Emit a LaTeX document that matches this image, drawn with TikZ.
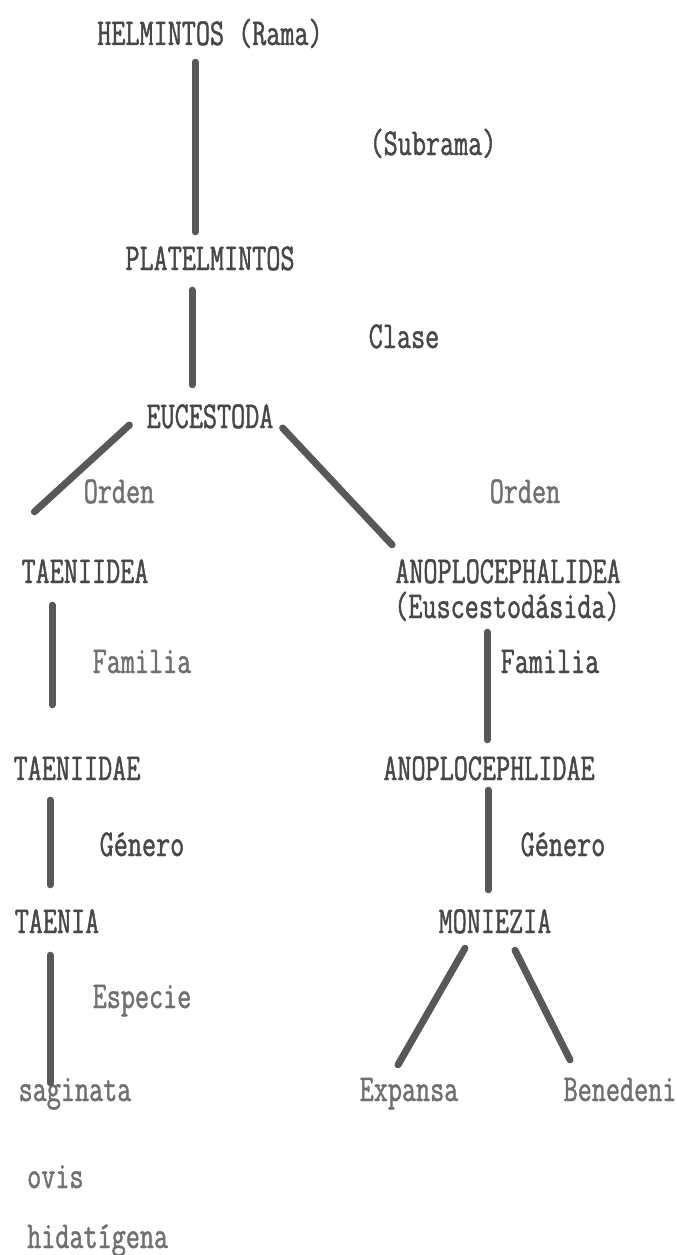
\documentclass[tikz,border=0pt]{standalone}
\usepackage{fontspec}
\setmonofont{Latin Modern Mono}[FakeStretch=0.72, FakeBold=1.2]
\usepackage{tikz}
\usetikzlibrary{calc}
\definecolor{inkdark}{HTML}{484848}
\definecolor{inklight}{HTML}{707070}
\definecolor{inkline}{HTML}{585858}
\tikzset{
	taxon/.style={font=\ttfamily\fontsize{38}{40}\selectfont, text=inkdark, inner sep=0pt, text height=22pt, text depth=6pt},
	rank/.style={taxon, text=inklight},
	branch/.style={line width=7pt, color=inkline, line cap=round}
}

\begin{document}
\begin{tikzpicture}[x=1pt, y=-1pt]
		%%%%% START %%%%%
		\useasboundingbox[fill=white] (0, 0) rectangle (677, 1255);
		
		\node[taxon] (helm) at (210, 37) {HELMINTOS (Rama)};
		\node[taxon] (plat) at (210, 262) {PLATELMINTOS};
		\node[taxon] (euce) at (210, 420) {EUCESTODA};
		
		\node[taxon] (taea) at (85, 575) {TAENIIDEA};
		\node[taxon] (taed) at (77, 772) {TAENIIDAE};
		\node[taxon] (taen) at (57, 925) {TAENIA};
		\node[rank] (sagi) at (75, 1093) {saginata};
		\node[rank, anchor=west] (ovis) at (27, 1180) {ovis};
		\node[rank, anchor=west] (hida) at (27, 1240) {hidatígena};
		
		\node[taxon] (anop) at (508, 575) {ANOPLOCEPHALIDEA};
		\node[taxon] (anps) at (507, 610) {(Euscestodásida)};
		\node[taxon] (anod) at (489, 772) {ANOPLOCEPHLIDAE};
		\node[taxon] (moni) at (495, 925) {MONIEZIA};
		\node[rank] (expa) at (409, 1093) {Expansa};
		\node[rank] (bene) at (620, 1093) {Benedeni};
		
		% rank labels
		\node[taxon] (lsub) at (433, 147) {(Subrama)};
		\node[taxon] (lcla) at (404, 340) {Clase};
		\node[rank] (lor1) at (119, 495) {Orden};
		\node[rank] (lor2) at (525, 495) {Orden};
		\node[rank] (lfa1) at (142, 665) {Familia};
		\node[taxon] (lfa2) at (550, 665) {Familia};
		\node[taxon] (lge1) at (142, 848) {Género};
		\node[taxon] (lge2) at (563, 848) {Género};
		\node[rank] (lesp) at (142, 1000) {Especie};
		
		% branches
		\draw[branch] ([xshift=-15pt, yshift=-11pt]helm.south) -- ([xshift=-15pt, yshift=16pt]plat.north);
		\draw[branch] ([xshift=-18pt, yshift=-14pt]plat.south) -- ([xshift=-18pt, yshift=21pt]euce.north);
		\draw[branch] ([xshift=-17pt, yshift=-5pt]euce.west) -- ([xshift=13pt, yshift=49pt]taea.north west);
		\draw[branch] ([xshift=9pt, yshift=-8pt]euce.east) -- ([xshift=-3pt, yshift=16pt]anop.north west);
		
		\draw[branch] ([xshift=-33pt, yshift=-16pt]taea.south) -- ([xshift=-25pt, yshift=53pt]taed.north);
		\draw[branch] ([xshift=-27pt, yshift=-14pt]taed.south) -- ([xshift=-7pt, yshift=26pt]taen.north);
		\draw[branch] ([xshift=-7pt, yshift=-16pt]taen.south) -- ([xshift=-25pt, yshift=-4pt]sagi.north);
		
		\draw[branch] ([xshift=-20pt, yshift=-8pt]anps.south) -- ([xshift=-2pt, yshift=18pt]anod.north);
		\draw[branch] ([xshift=-1pt, yshift=-4pt]anod.south) -- ([xshift=-7pt, yshift=21pt]moni.north);
		\draw[branch] ([xshift=-30pt, yshift=-9pt]moni.south) -- ([xshift=-11pt, yshift=14pt]expa.north);
		\draw[branch] ([xshift=20pt, yshift=-11pt]moni.south) -- ([xshift=-50pt, yshift=19pt]bene.north);
		
		%%%%% END %%%%%
	\end{tikzpicture}
\end{document}
